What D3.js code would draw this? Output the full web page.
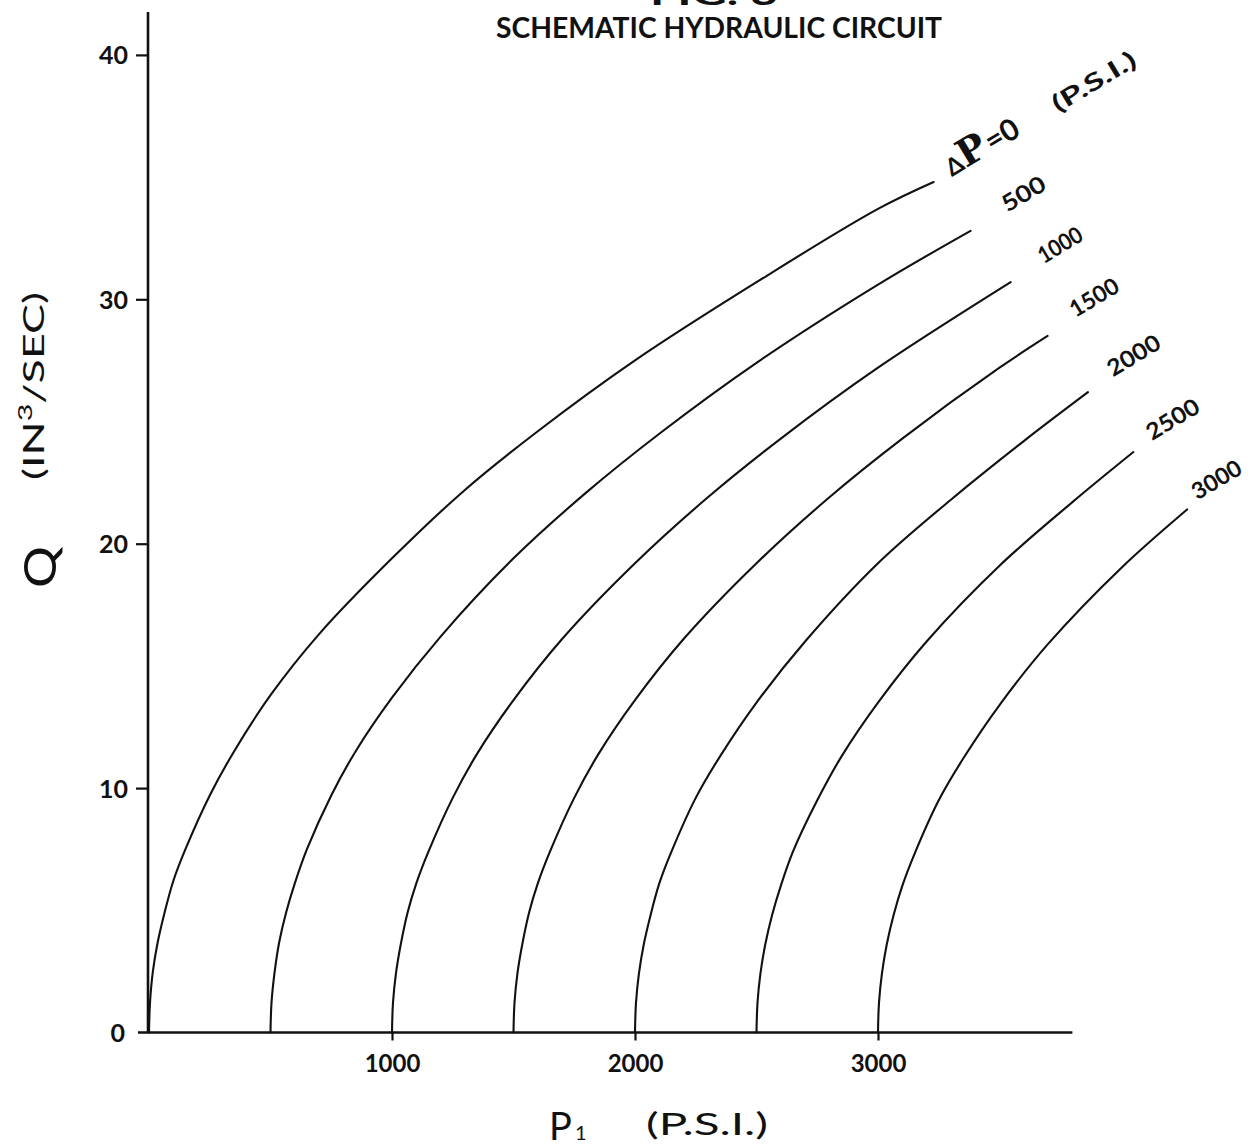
<!DOCTYPE html>
<html>
<head>
<meta charset="utf-8">
<script src="https://cdn.jsdelivr.net/npm/d3@7"></script>
<style>
  html, body { margin: 0; padding: 0; background: #fff; }
  svg { display: block; }
  text { font-family: Lato, "DejaVu Sans", sans-serif; fill: #111; }
</style>
</head>
<body>
<svg id="chart" width="1253" height="1147"></svg>
<script>
// ---------------- DATA ----------------
const xTickValues = [1000, 2000, 3000];           // P1 (p.s.i.)
const yTickValues = [0, 10, 20, 30, 40];          // Q (in^3/sec)
const deltaP = [0, 500, 1000, 1500, 2000, 2500, 3000];
const curveLabels = ["0", "500", "1000", "1500", "2000", "2500", "3000"];

// each curve: [P1, Q]
const curve0 = [[0,0],[4,1.2],[16,2.5],[36,3.7],[64,4.9],[100,6.2],[150,7.5],[250,9.7],[350,11.5],[500,13.8],[700,16.3],[1000,19.4],[1300,22.2],[1600,24.6],[2000,27.5],[2500,30.7],[3000,33.7],[3229,34.8]];
const curve500 = [[500,0],[504,1.2],[516,2.4],[536,3.7],[564,4.9],[600,6.1],[650,7.5],[750,9.7],[850,11.5],[1000,13.7],[1200,16.2],[1500,19.4],[1800,22.1],[2100,24.5],[2500,27.4],[3000,30.6],[3381,32.8]];
const curve1000 = [[1000,0],[1004,1.2],[1016,2.4],[1036,3.6],[1064,4.9],[1100,6.1],[1150,7.4],[1250,9.6],[1350,11.4],[1500,13.6],[1700,16.1],[2000,19.2],[2300,21.9],[2600,24.3],[3000,27.2],[3546,30.7]];
const curve1500 = [[1500,0],[1504,1.2],[1516,2.4],[1536,3.6],[1564,4.9],[1600,6.1],[1650,7.4],[1750,9.6],[1850,11.4],[2000,13.6],[2200,16.1],[2500,19.2],[2800,21.9],[3100,24.3],[3500,27.2],[3698,28.5]];
const curve2000 = [[2000,0],[2004,1.2],[2016,2.4],[2036,3.6],[2064,4.8],[2100,6.1],[2150,7.4],[2250,9.6],[2350,11.3],[2500,13.5],[2700,16.0],[3000,19.2],[3300,21.8],[3600,24.2],[3864,26.2]];
const curve2500 = [[2500,0],[2504,1.2],[2516,2.4],[2536,3.6],[2564,4.8],[2600,6.0],[2650,7.4],[2750,9.5],[2850,11.3],[3000,13.5],[3200,16.0],[3500,19.1],[3800,21.7],[4051,23.75]];
const curve3000 = [[3000,0],[3004,1.2],[3016,2.4],[3036,3.6],[3064,4.8],[3100,6.0],[3150,7.3],[3250,9.5],[3350,11.2],[3500,13.4],[3700,15.9],[4000,19.0],[4272,21.4]];
const curves = [curve0, curve500, curve1000, curve1500, curve2000, curve2500, curve3000];

// ---------------- LAYOUT ----------------
const svg = d3.select("#chart");
const x = d3.scaleLinear().domain([0, 3800]).range([149, 149 + 3.8 * 243]);
const y = d3.scaleLinear().domain([0, 40]).range([1032.5, 1032.5 - 4 * 244.4]);
const axisX = 148;

// Title
svg.append("text").attr("x", 650).attr("y", 5)
  .attr("font-size", 30).attr("font-weight", 700)
  .attr("textLength", 128).attr("lengthAdjust", "spacingAndGlyphs")
  .text("FIG. 3");
svg.append("text").attr("x", 496).attr("y", 38)
  .attr("font-size", 29).attr("font-weight", 700)
  .attr("textLength", 446).attr("lengthAdjust", "spacingAndGlyphs")
  .text("SCHEMATIC HYDRAULIC CIRCUIT");

// Axis lines
svg.append("line").attr("x1", axisX).attr("x2", axisX)
  .attr("y1", 12).attr("y2", y(0))
  .attr("stroke", "#111").attr("stroke-width", 2.6);
svg.append("line").attr("x1", 138).attr("x2", x(3800))
  .attr("y1", y(0)).attr("y2", y(0))
  .attr("stroke", "#111").attr("stroke-width", 2.6);

// Y axis ticks
const yAxis = svg.append("g").attr("transform", `translate(${axisX},0)`)
  .call(d3.axisLeft(y).tickValues(yTickValues).tickSize(12).tickPadding(8).tickFormat(d3.format("d")));
yAxis.select(".domain").remove();
yAxis.selectAll(".tick line").attr("stroke", "#111").attr("stroke-width", 2.2);
yAxis.selectAll(".tick text")
  .attr("font-family", "Lato, 'DejaVu Sans', sans-serif")
  .attr("font-size", 25).attr("font-weight", 700).attr("fill", "#111")
  .attr("dy", "0.36em");
yAxis.selectAll(".tick").filter(d => d === 0).select("line").remove();
yAxis.selectAll(".tick").filter(d => d === 0).select("text").attr("x", -23);

// X axis ticks
const xAxis = svg.append("g").attr("transform", `translate(0,${y(0)})`)
  .call(d3.axisBottom(x).tickValues(xTickValues).tickSize(8).tickFormat(d3.format("d")));
xAxis.select(".domain").remove();
xAxis.selectAll(".tick line").attr("stroke", "#111").attr("stroke-width", 2.2);
xAxis.selectAll(".tick text")
  .attr("font-family", "Lato, 'DejaVu Sans', sans-serif")
  .attr("font-size", 24).attr("font-weight", 700).attr("fill", "#111")
  .attr("y", 39.5).attr("dy", "0");

// Curves
const line = d3.line().x(d => x(d[0])).y(d => y(d[1])).curve(d3.curveCatmullRom.alpha(0.5));
svg.append("g").selectAll("path").data(curves).join("path")
  .attr("d", line).attr("fill", "none")
  .attr("stroke", "#111").attr("stroke-width", 2.1)
  .attr("stroke-linecap", "round");

// Curve labels (offset from each curve's end, rotated along the curve direction)
const labelOffsets = [[18,-5],[37,-18],[33,-18],[28,-18],[25,-15],[18.5,-11],[10.5,-9]];
const labelLengths = [null, 47, 48, 53, 58, 58, 54];
curves.forEach((c, i) => {
  const end = c[c.length - 1];
  const lx = x(end[0]) + labelOffsets[i][0];
  const ly = y(end[1]) + labelOffsets[i][1];
  const g = svg.append("g").attr("transform", `translate(${lx},${ly}) rotate(-31)`);
  if (i === 0) {
    const t = g.append("text").attr("x", 0).attr("y", 0).attr("font-weight", 700);
    t.append("tspan").attr("font-size", 24).text("\u0394");
    t.append("tspan").attr("font-size", 38).attr("font-family", "'DejaVu Serif', serif").text("P");
    t.append("tspan").attr("font-size", 30).attr("dx", 2).text("=" + curveLabels[i]);
    g.append("text").attr("x", 124).attr("y", 0)
      .attr("font-size", 24).attr("font-weight", 700)
      .attr("textLength", 94).attr("lengthAdjust", "spacingAndGlyphs")
      .text("(P.S.I.)");
  } else {
    g.append("text").attr("x", 0).attr("y", 0)
      .attr("font-size", 23).attr("font-weight", 700)
      .attr("textLength", labelLengths[i]).attr("lengthAdjust", "spacingAndGlyphs")
      .text(curveLabels[i]);
  }
});

// Axis titles
svg.append("text").attr("transform", "translate(56,567) rotate(-90)")
  .attr("text-anchor", "middle").attr("font-size", 44)
  .attr("textLength", 42).attr("lengthAdjust", "spacingAndGlyphs")
  .text("Q");
const yl = svg.append("text").attr("transform", "translate(44,386) rotate(-90)")
  .attr("text-anchor", "middle").attr("font-size", 28).attr("font-weight", 400)
  .attr("textLength", 188).attr("lengthAdjust", "spacingAndGlyphs");
yl.append("tspan").text("(IN");
yl.append("tspan").attr("font-size", 19).attr("dy", -12).text("3");
yl.append("tspan").attr("dy", 12).text("/SEC)");

svg.append("text").attr("x", 549).attr("y", 1140).attr("font-size", 38).text("P");
svg.append("text").attr("x", 575).attr("y", 1140).attr("font-size", 20).text("1");
svg.append("text").attr("x", 646).attr("y", 1135).attr("font-size", 30)
  .attr("textLength", 122).attr("lengthAdjust", "spacingAndGlyphs")
  .text("(P.S.I.)");
</script>
</body>
</html>
